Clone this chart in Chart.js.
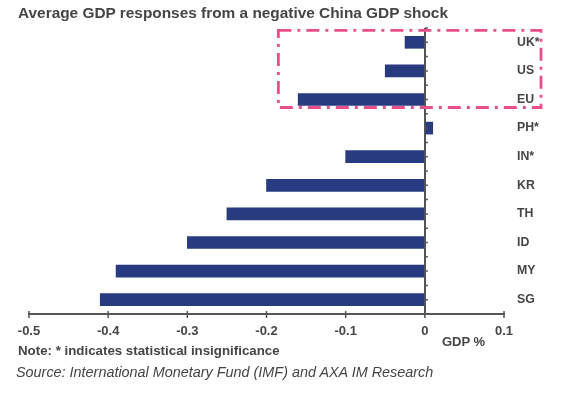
<!DOCTYPE html>
<html>
<head>
<meta charset="utf-8">
<script src="https://cdn.jsdelivr.net/npm/chart.js@4"></script>
<style>
  body { margin: 0; background: #fff; }
  #wrap { position: relative; width: 566px; height: 395px; font-family: "Liberation Sans", Arial, sans-serif; }
  #chart { position: absolute; left: 0; top: 0; }
  .txt { position: absolute; white-space: nowrap; color: #454545; }
  #title { left: 18px; top: 4px; font-size: 15.4px; font-weight: bold; }
  #note { left: 18px; top: 343px; font-size: 13.3px; font-weight: bold; }
  #source { left: 16px; top: 364px; font-size: 14.4px; font-style: italic; }
  #unit { left: 442px; top: 334px; font-size: 13px; font-weight: bold; }
</style>
</head>
<body>
<div id="wrap">
  <canvas id="chart" width="566" height="395"></canvas>
  <div class="txt" id="title">Average GDP responses from a negative China GDP shock</div>
  <div class="txt" id="unit">GDP %</div>
  <div class="txt" id="note">Note: * indicates statistical insignificance</div>
  <div class="txt" id="source">Source: International Monetary Fund (IMF) and AXA IM Research</div>
</div>
<script>
const countries = ['UK*', 'US', 'EU', 'PH*', 'IN*', 'KR', 'TH', 'ID', 'MY', 'SG'];
const gdpResponse = [-0.025, -0.05, -0.16, 0.01, -0.1, -0.2, -0.25, -0.3, -0.39, -0.41];
const xTicks = [-0.5, -0.4, -0.3, -0.2, -0.1, 0, 0.1];

// highlight box round the advanced economies + small tick marks
const extras = {
  id: 'extras',
  afterDatasetsDraw(chart) {
    const ctx = chart.ctx;
    const x = chart.scales.x;
    const y = chart.scales.y;
    const zero = x.getPixelForValue(0);
    ctx.save();
    ctx.strokeStyle = '#555';
    ctx.lineWidth = 1.5;
    ctx.beginPath();
    for (let i = 0; i < countries.length; i++) {
      [i - 0.5, i].forEach((v) => {
        const py = y.getPixelForValue(v);
        ctx.moveTo(zero, py);
        ctx.lineTo(zero + 3, py);
      });
    }
    xTicks.forEach((v) => {
      const px = x.getPixelForValue(v);
      ctx.moveTo(px, x.top - 3);
      ctx.lineTo(px, x.top + 4);
    });
    ctx.stroke();

    // dash-dot box
    const top = y.getPixelForValue(0) - 12;
    const bottom = y.getPixelForValue(2) + 8;
    const left = x.getPixelForValue(-0.185);
    const right = y.right - 25;
    ctx.strokeStyle = '#e84f8c';
    ctx.lineWidth = 2.8;
    ctx.setLineDash([13, 6, 3, 6]);
    ctx.strokeRect(left, top, right - left, bottom - top);
    ctx.restore();
  },
};

new Chart(document.getElementById('chart'), {
  type: 'bar',
  data: {
    labels: countries,
    datasets: [
      {
        data: gdpResponse,
        backgroundColor: '#283a80',
        barThickness: 12,
      },
    ],
  },
  options: {
    indexAxis: 'y',
    responsive: false,
    animation: false,
    layout: { padding: { left: 29, top: 28, right: 0, bottom: 0 } },
    plugins: {
      legend: { display: false },
      tooltip: { enabled: false },
    },
    scales: {
      x: {
        min: -0.5,
        max: 0.1,
        afterBuildTicks: (scale) => {
          scale.ticks = xTicks.map((v) => ({ value: v }));
        },
        afterFit: (scale) => {
          scale.height = 81;
        },
        border: { display: true, color: '#555', width: 2 },
        grid: {
          drawTicks: false,
          color: (c) => (c.tick && c.tick.value === 0 ? '#555' : 'rgba(0,0,0,0)'),
          lineWidth: 2,
        },
        ticks: {
          padding: 10,
          color: '#454545',
          font: { family: 'Liberation Sans', size: 13, weight: 'bold' },
          callback: (v) => String(Math.round(v * 10) / 10),
        },
      },
      y: {
        position: 'right',
        afterFit: (scale) => {
          scale.width = 62;
        },
        border: { display: false },
        grid: { display: false, drawTicks: false },
        ticks: {
          padding: 13,
          color: '#454545',
          font: { family: 'Liberation Sans', size: 12.3, weight: 'bold' },
        },
      },
    },
  },
  plugins: [extras],
});
</script>
</body>
</html>
